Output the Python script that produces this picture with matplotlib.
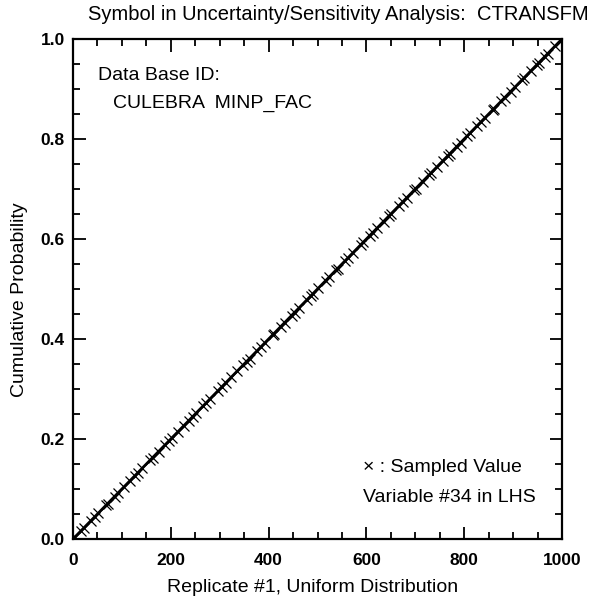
import matplotlib
matplotlib.use("Agg")
import matplotlib.pyplot as plt
from matplotlib.ticker import MultipleLocator

plt.rcParams['font.family'] = ['Liberation Sans', 'DejaVu Sans']

# CDF of the uniform distribution (line)
cdf_x = [0, 1000]
cdf_y = [0.0, 1.0]

samples = [5, 17, 23, 36, 44, 52, 68, 71, 85, 93,
           104, 116, 127, 133, 142, 158, 163, 175, 188, 196,
           203, 214, 226, 237, 245, 252, 266, 273, 281, 297,
           305, 312, 324, 336, 348, 355, 361, 377, 384, 392,
           408, 411, 425, 433, 447, 453, 462, 478, 486, 491,
           502, 517, 524, 538, 541, 556, 563, 572, 589, 594,
           607, 613, 622, 635, 646, 651, 667, 674, 683, 698,
           701, 715, 728, 732, 744, 757, 766, 771, 785, 793,
           806, 812, 827, 834, 842, 858, 861, 876, 883, 895,
           904, 918, 923, 937, 949, 952, 965, 971, 986, 997]
sample_cdf = [v / 1000.0 for v in samples]

xticks = [0, 200, 400, 600, 800, 1000]
yticks = [0.0, 0.2, 0.4, 0.6, 0.8, 1.0]

W, H = 593, 602
fig = plt.figure(figsize=(W / 100, H / 100), dpi=100)
ax = fig.add_axes([73 / W, 63 / H, 489 / W, 500 / H])

ax.plot(cdf_x, cdf_y, color='black', lw=2.0, zorder=3)
ax.plot(samples, sample_cdf, ls='none', marker='x', ms=7, mew=0.9,
        color='black', zorder=4)

ax.set_xlim(0, 1000)
ax.set_ylim(0, 1)
ax.set_xticks(xticks)
ax.set_xticklabels([str(t) for t in xticks])
ax.set_yticks(yticks)
ax.set_yticklabels([f"{t:.1f}" for t in yticks])
ax.xaxis.set_minor_locator(MultipleLocator(50))
ax.yaxis.set_minor_locator(MultipleLocator(0.05))
ax.tick_params(which='both', direction='in', top=True, right=True, width=1.3)
ax.tick_params(which='major', length=9, labelsize=12.5, pad=6)
ax.tick_params(axis='x', which='major', pad=10)
ax.tick_params(which='minor', length=5)
for lab in ax.get_xticklabels() + ax.get_yticklabels():
    lab.set_fontweight('bold')
for s in ax.spines.values():
    s.set_linewidth(1.6)

fs = 14
ax.set_xlabel('Replicate #1, Uniform Distribution', fontsize=fs)
ax.xaxis.set_label_coords(0.49, -(587 - 539) / 500, transform=ax.transAxes)
ax.xaxis.label.set_va('center')
ax.set_ylabel('Cumulative Probability', fontsize=fs)
ax.yaxis.set_label_coords(-(73 - 20) / 489, (539 - 300) / 500, transform=ax.transAxes)
ax.yaxis.label.set_va('center')

fig.text(338 / W, 1 - 15 / H, 'Symbol in Uncertainty/Sensitivity Analysis:  CTRANSFM',
         ha='center', va='center', fontsize=14.5)

ax.text(0.051, 0.928, 'Data Base ID:', transform=ax.transAxes, fontsize=fs, va='center')
ax.text(0.082, 0.872, 'CULEBRA  MINP_FAC', transform=ax.transAxes, fontsize=fs, va='center')
ax.text(0.593, 0.142, '\u00d7 : Sampled Value', transform=ax.transAxes, fontsize=fs, va='center')
ax.text(0.593, 0.082, 'Variable #34 in LHS', transform=ax.transAxes, fontsize=fs, va='center')

fig.savefig('out.png', dpi=100)
